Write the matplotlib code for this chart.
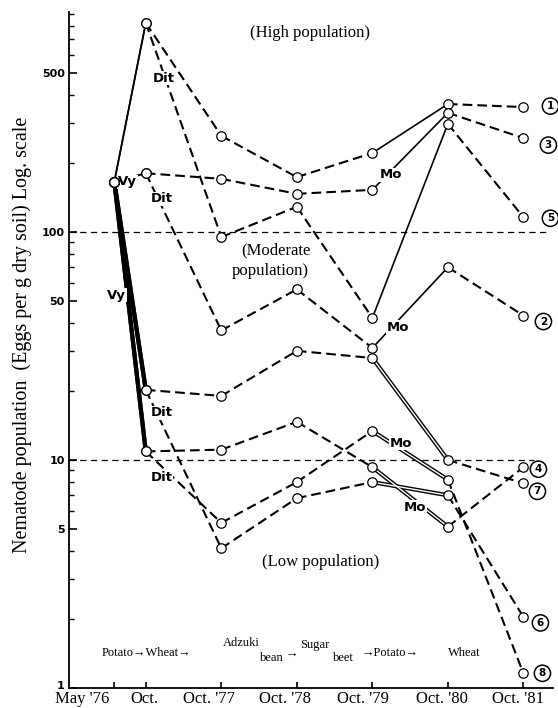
import numpy as np
import matplotlib
matplotlib.use('Agg')
import matplotlib.pyplot as plt
import matplotlib.transforms as mtransforms
from matplotlib.ticker import FixedLocator, FixedFormatter, NullFormatter

plt.rcParams['lines.scale_dashes'] = False

# ---------------- data ----------------
date_labels = ["May '76", "Oct.", "Oct. '77", "Oct. '78", "Oct. '79", "Oct. '80", "Oct. '81"]
months = [0, 5, 17, 29, 41, 53, 65]          # months since May 1976

plot1 = [166, 826, 264, 174, 222, 364, 353]
plot2 = [166, 181, 37, 56, 31, 70, 43]
plot3 = [166, 181, 171, 147, 153, 333, 258]
plot4 = [166, 10.9, 11.1, 14.7, 9.3, 5.1, 9.3]
plot5 = [166, 826, 95, 129, 42, 298, 116]
plot6 = [166, 20.3, 4.1, 6.8, 8.0, 7.0, 2.05]
plot7 = [166, 20.3, 19.1, 30.1, 28.0, 10.0, 7.9]
plot8 = [166, 10.9, 5.3, 8.0, 13.4, 8.2, 1.16]

series = {'1': plot1, '2': plot2, '3': plot3, '4': plot4,
          '5': plot5, '6': plot6, '7': plot7, '8': plot8}

# segment styles: s = thin solid, d = dashed, v = thick solid, w = double line
upper_style = ['s', 'd', 'd', 'd', 's', 'd']
lower_style = ['v', 'd', 'd', 'd', 'w', 'd']
seg_styles = {'1': upper_style, '2': upper_style, '3': upper_style, '5': upper_style,
              '4': lower_style, '6': lower_style, '7': lower_style, '8': lower_style}

y_major = [1, 5, 10, 50, 100, 500]
y_major_labels = ['1', '5', '10', '50', '100', '500']
y_minor = [2, 3, 4, 6, 7, 8, 9, 20, 30, 40, 60, 70, 80, 90, 200, 300, 400, 600, 700, 800, 900]

# ---------------- figure ----------------
fig = plt.figure(figsize=(5.58, 7.08), dpi=100)
ax = fig.add_axes([69/558, 20/708, (553-69)/558, (688-12)/708])
ax.set_yscale('log')
ax.set_ylim(1, 922)
ax.set_xlim(-7.2, 69.7)

for sp in ['top', 'right']:
    ax.spines[sp].set_visible(False)
ax.spines['left'].set_linewidth(1.3)
ax.spines['bottom'].set_linewidth(1.3)

dash = (0, (7, 3.6))
for key, vals in series.items():
    st = seg_styles[key]
    for i in range(len(vals) - 1):
        xs = months[i:i+2]
        ys = vals[i:i+2]
        s = st[i]
        if s == 's':
            ax.plot(xs, ys, color='black', lw=1.2, solid_capstyle='butt', zorder=2)
        elif s == 'd':
            ax.plot(xs, ys, color='black', lw=1.5, ls=dash, zorder=2)
        elif s == 'v':
            ax.plot(xs, ys, color='black', lw=3.0, solid_capstyle='butt', zorder=2)
        elif s == 'w':
            ax.plot(xs, ys, color='black', lw=3.0, solid_capstyle='butt', zorder=2)
            ax.plot(xs, ys, color='white', lw=1.0, solid_capstyle='butt', zorder=2.1)
    ax.plot(months, vals, ls='none', marker='o', ms=6.8, mfc='white',
            mec='black', mew=0.9, zorder=5)

# reference levels
ax.axhline(100, xmin=0, xmax=0.99, color='black', lw=0.9, ls=(0, (4.5, 3.2)), zorder=1)
ax.axhline(10, xmin=0, xmax=0.96, color='black', lw=0.9, ls=(0, (4.5, 3.2)), zorder=1)

# ticks
ax.yaxis.set_major_locator(FixedLocator(y_major))
ax.yaxis.set_major_formatter(FixedFormatter(y_major_labels))
ax.yaxis.set_minor_locator(FixedLocator(y_minor))
ax.yaxis.set_minor_formatter(NullFormatter())
ax.tick_params(axis='y', which='major', direction='in', length=6, width=1.2, pad=3,
               labelsize=8)
ax.tick_params(axis='y', which='minor', direction='in', length=3.5, width=1.0)
for lab in ax.get_yticklabels():
    lab.set_fontweight('bold')
    lab.set_family('DejaVu Sans')
ylab1 = ax.get_yticklabels()[0]
ylab1.set_transform(ylab1.get_transform() + mtransforms.ScaledTranslation(0, 3/100, fig.dpi_scale_trans))

ax.set_xticks(months)
ax.set_xticklabels(date_labels, family='Liberation Serif', fontsize=12)
ax.tick_params(axis='x', which='major', direction='in', length=4, width=1.2, pad=2)
x_offsets = [-32, -1, -12, -12, -9, -6, -5]
for lab, dx in zip(ax.get_xticklabels(), x_offsets):
    lab.set_transform(lab.get_transform() + mtransforms.ScaledTranslation(dx/100, 0, fig.dpi_scale_trans))

# axis title
fig.text(22/558, 1 - 335/708, "Nematode population  (Eggs per g dry soil) Log. scale",
         rotation=90, ha='center', va='center', family='Liberation Serif', fontsize=14.5)

# treatment labels
bb = dict(boxstyle='square,pad=0.05', fc='white', ec='none')
treat = [('Dit', 7.9, 473), ('Dit', 7.6, 139.6), ('Dit', 7.5, 16.1), ('Dit', 7.5, 8.42),
         ('Vy', 2.1, 166), ('Vy', 0.4, 52.9),
         ('Mo', 43.9, 178), ('Mo', 45.1, 38.3), ('Mo', 45.6, 11.87), ('Mo', 47.8, 6.22)]
for txt, x, y in treat:
    ax.text(x, y, txt, ha='center', va='center', family='DejaVu Sans', fontweight='bold',
            fontsize=9.5, bbox=bb, zorder=4)

# population zone labels
serif = dict(family='Liberation Serif', ha='center', va='center')
ax.text(31.1, 746, '(High population)', fontsize=12, **serif)
ax.text(25.7, 83.4, '(Moderate', fontsize=12, **serif)
ax.text(24.7, 67.5, 'population)', fontsize=12, **serif)
ax.text(32.7, 3.57, '(Low population)', fontsize=12, **serif)

# crop sequence
crop = dict(family='Liberation Serif', ha='left', va='center', fontsize=9)
ax.text(-2.0, 1.42, 'Potato\u2192Wheat\u2192', **crop)
ax.text(17.2, 1.575, 'Adzuki', **crop)
ax.text(23.1, 1.354, 'bean', **crop)
ax.text(27.2, 1.40, '\u2192', **crop)
ax.text(29.5, 1.55, 'Sugar', **crop)
ax.text(34.7, 1.354, 'beet', **crop)
ax.text(39.3, 1.42, '\u2192Potato\u2192', **crop)
ax.text(53.0, 1.42, 'Wheat', **crop)

# plot number labels
num_offsets = {'1': (27, 1), '3': (25, -7), '5': (27, -1), '2': (20, -6),
               '4': (15, -2), '7': (14, -8), '6': (17, -6), '8': (19, 0)}
for key, (dx, dy) in num_offsets.items():
    ax.annotate(key, (months[-1], series[key][-1]), xytext=(dx, dy),
                textcoords='offset pixels', ha='center', va='center',
                family='DejaVu Sans', fontweight='bold', fontsize=7.5,
                bbox=dict(boxstyle='circle,pad=0.3', fc='white', ec='black', lw=1.1),
                annotation_clip=False, zorder=6)

fig.savefig('out.png', dpi=100)
